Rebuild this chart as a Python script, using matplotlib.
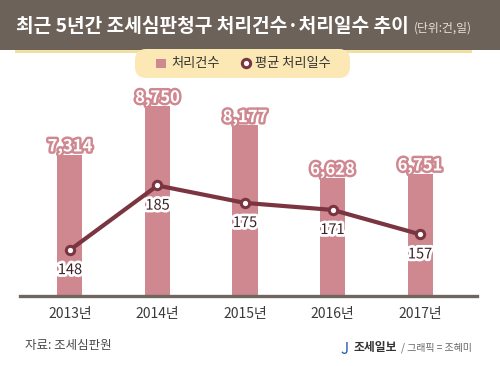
import matplotlib
matplotlib.use('Agg')
import matplotlib.pyplot as plt
import matplotlib.patheffects as pe
from matplotlib.patches import Rectangle, FancyBboxPatch
from matplotlib.lines import Line2D

plt.rcParams['font.family'] = ['Noto Sans CJK KR', 'DejaVu Sans']

years = ['2013년', '2014년', '2015년', '2016년', '2017년']
cases = [7314, 8750, 8177, 6628, 6751]
days = [148, 185, 175, 171, 157]

bar_color = '#cf8790'
line_color = '#7a3540'
title_bg = '#6d6259'

W, H = 500, 366
fig = plt.figure(figsize=(W / 100, H / 100), dpi=100)
fig.patch.set_facecolor('white')


def fx(x):
    return x / W


def fy(y):
    return 1 - y / H


# title bar
fig.patches.append(Rectangle((0, fy(50)), 1, 50 / H, transform=fig.transFigure,
                             facecolor=title_bg, edgecolor='none', zorder=0))
fig.patches.append(Rectangle((fx(15), fy(53)), fx(457), 3 / H, transform=fig.transFigure,
                             facecolor='#f3dfa2', edgecolor='none', zorder=1))
fig.text(fx(16), fy(27), '최근 5년간 조세심판청구 처리건수·처리일수 추이', color='white',
         fontsize=13.8, fontweight='bold', va='center', ha='left')
fig.text(fx(472), fy(28), '(단위:건,일)', color='#e8e0d8', fontsize=8.5,
         va='center', ha='right')

# legend pill
fig.patches.append(FancyBboxPatch((fx(141), fy(72)), fx(203), 17 / H,
                                  boxstyle='round,pad=0.012,rounding_size=0.022',
                                  transform=fig.transFigure, facecolor='#fbe8b4',
                                  edgecolor='none', zorder=1, mutation_aspect=W / H))
fig.patches.append(Rectangle((fx(156), fy(68)), 10 / W, 9 / H, transform=fig.transFigure,
                             facecolor=bar_color, edgecolor='none', zorder=2))
fig.text(fx(171), fy(63), '처리건수', fontsize=9.5, color='#333333', va='center', ha='left')
fig.lines.append(Line2D([fx(246)], [fy(63)], transform=fig.transFigure, marker='o',
                        markersize=6, markerfacecolor='white', markeredgecolor=line_color,
                        markeredgewidth=2.2, linestyle='none', zorder=3))
fig.text(fx(255), fy(63), '평균 처리일수', fontsize=9.5, color='#333333', va='center', ha='left')

# main axes
ax = fig.add_axes([fx(20), fy(296), fx(457), (296 - 60) / H])
x = list(range(len(years)))
ax.bar(x, cases, width=0.286, color=bar_color, zorder=2)
ax.set_xlim(-0.571, 4.651)
ax.set_ylim(3147, 10109)
ax.axhline(3147, color='#6f6660', linewidth=2.4, zorder=4, clip_on=False)
for s in ax.spines.values():
    s.set_visible(False)
ax.set_yticks([])
ax.set_xticks(x)
ax.set_xticklabels(years, fontsize=10, color='#3a3a3a')
ax.tick_params(axis='x', length=0, pad=8)
ax.patch.set_alpha(0)

for xi, v in zip(x, cases):
    ax.annotate(f'{v:,}', (xi, v), xytext=(0, 6), textcoords='offset points',
                ha='center', va='center', fontsize=12, fontweight='bold', color='white',
                path_effects=[pe.withStroke(linewidth=3.5, foreground=bar_color)], zorder=5)

ax2 = ax.twinx()
ax2.set_ylim(121.6, 257.0)
ax2.plot(x, days, color=line_color, linewidth=3, marker='o', markersize=6,
         markerfacecolor='white', markeredgecolor=line_color, markeredgewidth=2.2, zorder=5)
for s in ax2.spines.values():
    s.set_visible(False)
ax2.set_yticks([])
for xi, v in zip(x, days):
    ax2.annotate(str(v), (xi, v), xytext=(0, -14.5), textcoords='offset points',
                 ha='center', va='center', fontsize=10.5, color='#3b2328',
                 path_effects=[pe.withStroke(linewidth=4, foreground='white')], zorder=6)

# footer
fig.text(fx(25), fy(346), '자료: 조세심판원', fontsize=9, color='#4a4a4a', va='center', ha='left')
fig.text(fx(401), fy(348), '/ 그래픽 = 조혜미', fontsize=7.2, color='#666666', va='center', ha='left')
fig.text(fx(397), fy(348), '조세일보', fontsize=8.5, fontweight='bold', color='#333333',
         va='center', ha='right')
fig.text(fx(345), fy(350), 'J', fontsize=11, color='#2a5fa8', va='center', ha='center',
         style='italic')

fig.savefig('out.png', dpi=100)
